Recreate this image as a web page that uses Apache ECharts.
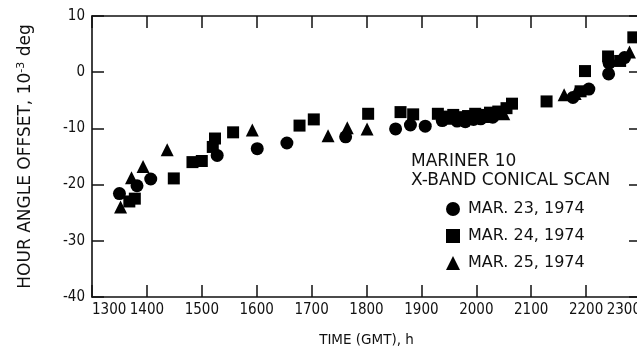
<!DOCTYPE html>
<html>
<head>
<meta charset="utf-8">
<script src="https://cdn.jsdelivr.net/npm/echarts@6/dist/echarts.min.js"></script>
<style>
  html, body { margin: 0; padding: 0; background: #fff; }
  #chart { width: 637px; height: 349px; }
</style>
</head>
<body>
<div id="chart"></div>
<script>
// readings: [time (GMT) h, hour angle offset 10^-3 deg]
var mar23 = [[1350,-21.6],[1382,-20.2],[1407,-19.0],[1528,-14.8],[1601,-13.6],[1655,-12.6],[1762,-11.5],
  [1853,-10.1],[1880,-9.4],[1907,-9.6],[1938,-8.6],[1965,-8.7],[1980,-8.8],[1995,-8.4],[2008,-8.3],
  [2030,-8.0],[2176,-4.5],[2205,-3.0],[2241,-0.3],[2242,1.6],[2270,2.6]];
var mar24 = [[1368,-23.0],[1378,-22.5],[1449,-18.9],[1483,-16.0],[1500,-15.8],[1520,-13.3],[1524,-11.8],
  [1557,-10.7],[1678,-9.5],[1704,-8.4],[1803,-7.4],[1862,-7.1],[1885,-7.5],[1930,-7.4],[1945,-7.9],
  [1958,-7.6],[1972,-8.0],[1985,-7.8],[1998,-7.4],[2012,-7.6],[2025,-7.2],[2040,-7.0],[2055,-6.4],
  [2065,-5.6],[2128,-5.2],[2190,-3.4],[2198,0.2],[2240,2.8],[2262,2.0],[2286,6.2]];
var mar25 = [[1352,-24.0],[1372,-18.8],[1393,-16.8],[1437,-13.8],[1592,-10.3],[1730,-11.3],[1765,-9.9],
  [1801,-10.1],[1952,-8.2],[2018,-7.9],[2050,-7.4],[2160,-4.0],[2180,-3.8],[2279,3.6]];

var seriesNames = ['MAR. 23, 1974', 'MAR. 24, 1974', 'MAR. 25, 1974'];
var xTicks = [1300, 2300, 100];   // min, max, step
var yTicks = [-40, 10, 10];

var font = '"DejaVu Sans", sans-serif';
var narrow = '"DejaVu Sans Condensed", "DejaVu Sans", sans-serif';
var ink = '#111';

var chart = echarts.init(document.getElementById('chart'));

// box side: line + inward ticks only
function frame(pos, range) {
  return {
    type: 'value', position: pos,
    min: range[0], max: range[1], interval: range[2],
    splitLine: { show: false },
    axisLine: { show: true, onZero: false, lineStyle: { color: ink, width: 1.6 } },
    axisTick: { show: true, inside: true, length: 12, lineStyle: { color: ink, width: 1.5 } },
    axisLabel: { show: false }
  };
}
// labels + name only, drawn on top of a frame side
function labelled(pos, range, extra) {
  var ax = {
    type: 'value', position: pos,
    min: range[0], max: range[1], interval: range[2],
    splitLine: { show: false },
    axisLine: { show: false, onZero: false },
    axisTick: { show: false }
  };
  for (var k in extra) ax[k] = extra[k];
  return ax;
}

var option = {
  animation: false,
  backgroundColor: '#fff',
  textStyle: { fontFamily: font, color: ink },
  title: {
    text: 'MARINER 10\nX-BAND CONICAL SCAN',
    left: 406, top: 147,
    textStyle: { fontFamily: font, fontSize: 17, fontWeight: 'normal', color: ink, lineHeight: 19 }
  },
  legend: {
    orient: 'vertical',
    left: 441, top: 196,
    itemWidth: 14, itemHeight: 14, itemGap: 11,
    data: seriesNames,
    textStyle: { fontFamily: font, fontSize: 16, color: ink, padding: [0, 0, 0, 3] }
  },
  grid: { left: 92, right: -4, top: 16, bottom: 52, outerBoundsMode: 'none', containLabel: false },
  xAxis: [
    labelled('bottom', xTicks, {
      name: 'TIME (GMT), h', nameLocation: 'middle', nameGap: 36,
      nameTextStyle: { fontFamily: font, fontSize: 13.5, color: ink },
      axisLabel: { show: true, margin: 6, fontFamily: narrow, fontSize: 15, color: ink,
        showMinLabel: true, showMaxLabel: true,
        alignMinLabel: 'left', alignMaxLabel: 'right',
        formatter: function (v) { return String(v); } }
    }),
    frame('bottom', xTicks),
    frame('top', xTicks)
  ],
  yAxis: [
    labelled('left', yTicks, {
      name: 'HOUR ANGLE OFFSET, 10{sup|-3} deg', nameLocation: 'middle', nameGap: 56,
      nameTextStyle: { fontFamily: font, fontSize: 17, color: ink,
        rich: { sup: { fontFamily: font, fontSize: 11, color: ink, padding: [0, 0, 9, 0] } } },
      axisLabel: { show: true, margin: 7, fontFamily: narrow, fontSize: 15, color: ink,
        showMinLabel: true, showMaxLabel: true }
    }),
    frame('left', yTicks),
    frame('right', yTicks)
  ],
  series: [
    { name: seriesNames[0], type: 'scatter', data: mar23, symbol: 'circle', symbolSize: 13,
      itemStyle: { color: '#000', opacity: 1 } },
    { name: seriesNames[1], type: 'scatter', data: mar24, symbol: 'rect', symbolSize: 12,
      itemStyle: { color: '#000', opacity: 1 } },
    { name: seriesNames[2], type: 'scatter', data: mar25, symbol: 'triangle', symbolSize: 13,
      itemStyle: { color: '#000', opacity: 1 } }
  ]
};

chart.setOption(option);
</script>
</body>
</html>
